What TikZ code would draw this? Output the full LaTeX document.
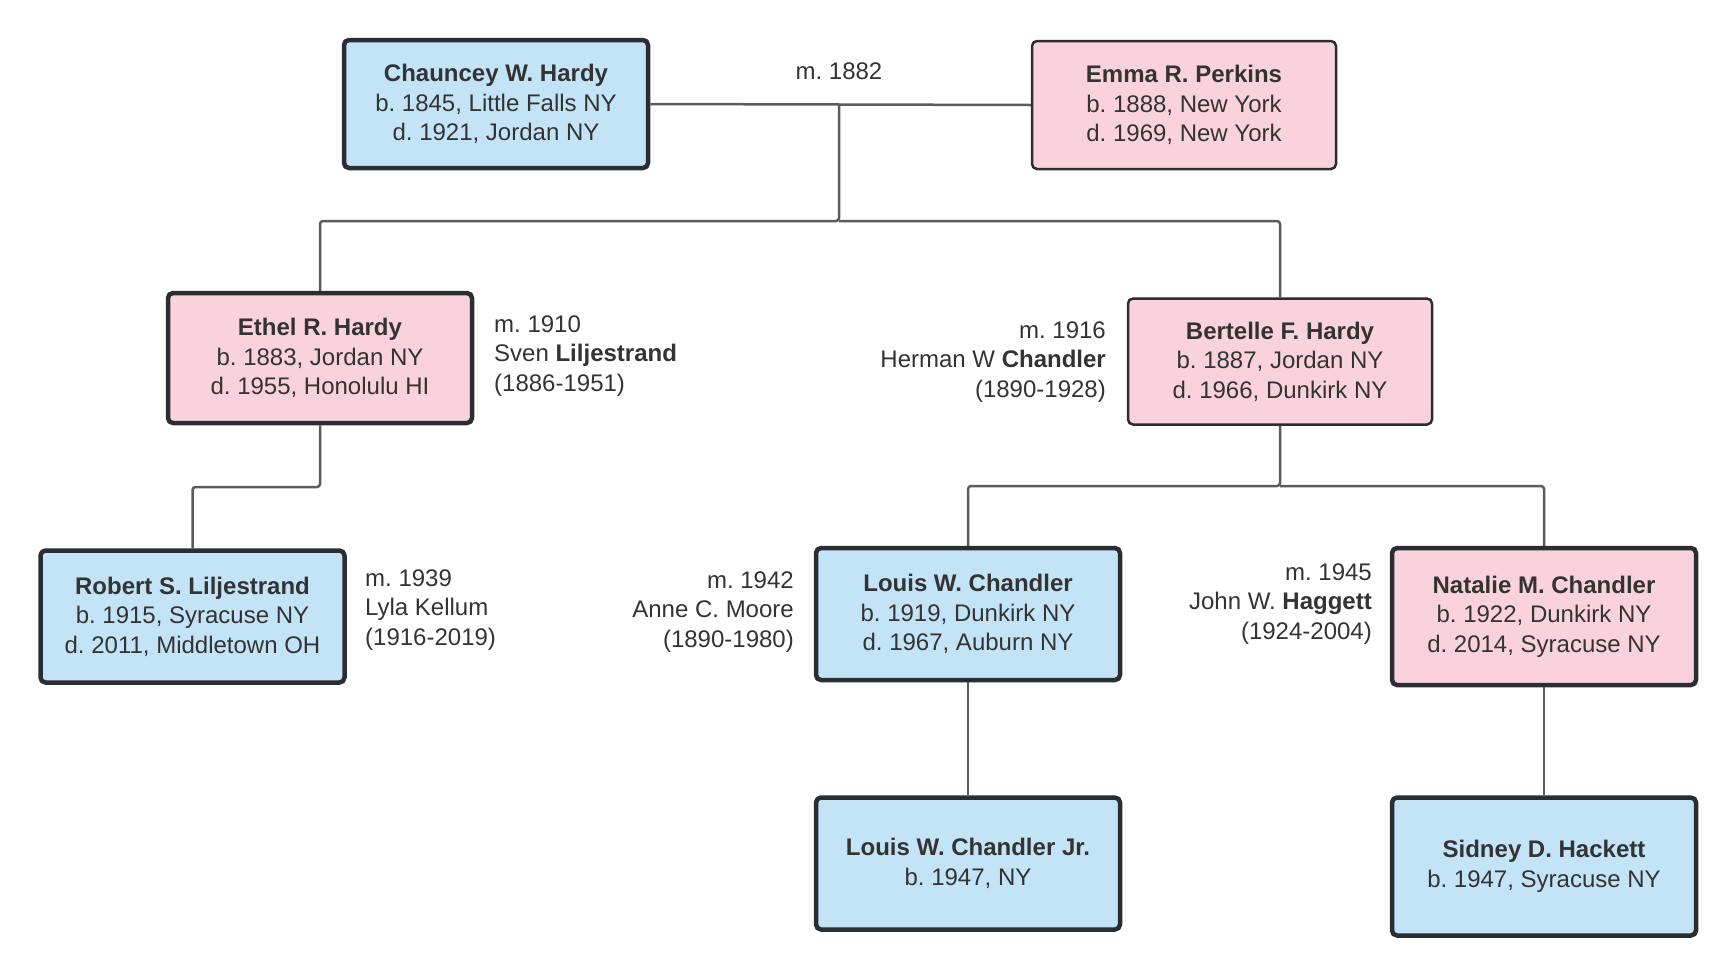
\documentclass[tikz,border=0pt]{standalone}
\usepackage{fontspec}
\setmainfont{Liberation Sans}
\frenchspacing
\usetikzlibrary{positioning,calc,backgrounds}
\definecolor{ink}{HTML}{333333}
\definecolor{edgecol}{HTML}{2A2D32}
\definecolor{linkcol}{HTML}{5C5C5C}
\definecolor{malecol}{HTML}{C3E4F6}
\definecolor{femcol}{HTML}{F9D2DD}

\begin{document}
\begin{tikzpicture}[x=1pt, y=-1pt,
  font=\fontsize{24}{29.5}\selectfont, text=ink, line join=round,
  person/.style={draw=edgecol, rounded corners=5pt, align=center,
                 minimum width=304pt, minimum height=128pt, inner sep=4pt},
  male/.style={person, fill=malecol},
  fem/.style={person, fill=femcol},
  thick box/.style={line width=4.5pt},
  thin box/.style={line width=2.5pt},
  spouse/.style={inner sep=0pt},
  link/.style={draw=linkcol, line width=2.5pt, rounded corners=3pt}]

\useasboundingbox (0,0) rectangle (1736,975);

% ================================================ generation 1
\node[male, thick box] (chauncey) at (496,104)
  {\textbf{Chauncey W. Hardy}\\b. 1845, Little Falls NY\\d. 1921, Jordan NY};
\node[fem, thin box] (emma) at (1184,105)
  {\textbf{Emma R. Perkins}\\b. 1888, New York\\d. 1969, New York};
\node[spouse] (m1882) at (839,71) {m. 1882};

% ================================================ generation 2
\node[fem, thick box, minimum height=130pt] (ethel) at (320,358)
  {\textbf{Ethel R. Hardy}\\b. 1883, Jordan NY\\d. 1955, Honolulu HI};
\node[spouse, anchor=west, align=left] (m1910) at (494,356)
  {m. 1910\\Sven \textbf{Liljestrand}\\(1886-1951)};
\node[fem, thin box, minimum height=126pt] (bertelle) at (1280,361.5)
  {\textbf{Bertelle F. Hardy}\\b. 1887, Jordan NY\\d. 1966, Dunkirk NY};
\node[spouse, anchor=east, align=right] (m1916) at (1106,362)
  {m. 1916\\Herman W \textbf{Chandler}\\(1890-1928)};

% ================================================ generation 3
\node[male, thick box, minimum height=132pt] (robert) at (192.5,616.5)
  {\textbf{Robert S. Liljestrand}\\b. 1915, Syracuse NY\\d. 2011, Middletown OH};
\node[spouse, anchor=west, align=left] (m1939) at (365,610)
  {m. 1939\\Lyla Kellum\\(1916-2019)};
\node[male, thick box, minimum height=132pt] (louis) at (968,614)
  {\textbf{Louis W. Chandler}\\b. 1919, Dunkirk NY\\d. 1967, Auburn NY};
\node[spouse, anchor=east, align=right] (m1942) at (794,612)
  {m. 1942\\Anne C. Moore\\(1890-1980)};
\node[fem, thick box, minimum height=137pt] (natalie) at (1544,616.5)
  {\textbf{Natalie M. Chandler}\\b. 1922, Dunkirk NY\\d. 2014, Syracuse NY};
\node[spouse, anchor=east, align=right] (m1945) at (1372,604)
  {m. 1945\\John W. \textbf{Haggett}\\(1924-2004)};

% ================================================ generation 4
\node[male, thick box, minimum height=132pt] (louisjr) at (968,863.5)
  {\textbf{Louis W. Chandler Jr.}\\b. 1947, NY};
\node[male, thick box, minimum height=138pt] (sidney) at (1544,866.5)
  {\textbf{Sidney D. Hackett}\\b. 1947, Syracuse NY};

% ================================================ connectors
\begin{scope}[on background layer]
\coordinate (wed) at (839,104);
\coordinate (kids1) at (839,221);
\coordinate (kids2) at (320,487);
\coordinate (kids3) at (1280,486);
\draw[link] (chauncey.east) -- (emma.west);
\draw[link] (wed) -- (kids1) -| (ethel.north);
\draw[link] (kids1) -| (bertelle.north);
\draw[link] (ethel.south) -- (kids2) -| (robert.north);
\draw[link] (bertelle.south) -- (kids3) -| (louis.north);
\draw[link] (kids3) -| (natalie.north);
\draw[link] (louis.south) -- (louisjr.north);
\draw[link] (natalie.south) -- (sidney.north);
\end{scope}

\end{tikzpicture}
\end{document}
